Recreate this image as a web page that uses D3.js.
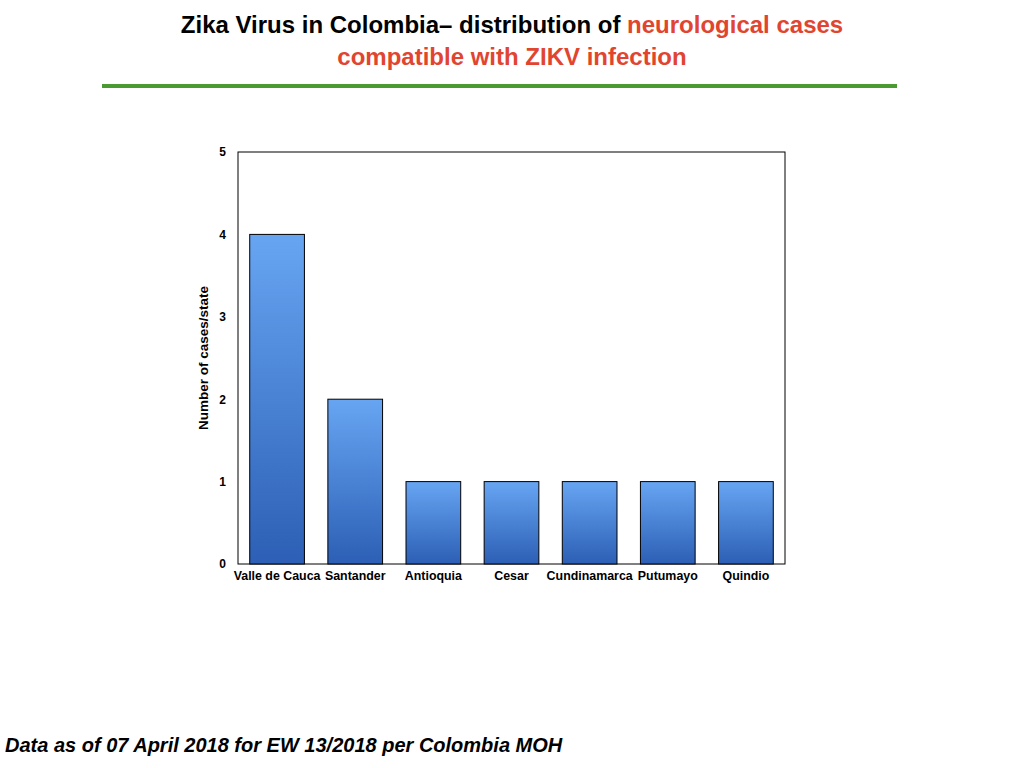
<!DOCTYPE html>
<html lang="en">
<head>
    <meta charset="UTF-8">
    <title>Zika Virus in Colombia</title>
    <script src="https://cdn.jsdelivr.net/npm/d3@7/dist/d3.min.js"></script>
    <style>
        body { margin: 0; background: #fff; }
        text { font-family: "Liberation Sans", Arial, sans-serif; }
    </style>
</head>
<body>
<script>
    // data
    let states = ["Valle de Cauca", "Santander", "Antioquia", "Cesar", "Cundinamarca", "Putumayo", "Quindio"];
    let cases = [4, 2, 1, 1, 1, 1, 1];
    let yTicks = [0, 1, 2, 3, 4, 5];

    let svg = d3.select('body').append('svg')
        .attr('width', 1024)
        .attr('height', 768);

    // gradient for the bars, light on top, darker at the base
    let grad = svg.append('defs').append('linearGradient')
        .attr('id', 'barFill')
        .attr('x1', 0).attr('y1', 0).attr('x2', 0).attr('y2', 1);
    grad.append('stop').attr('offset', '0%').attr('stop-color', '#67a5f2');
    grad.append('stop').attr('offset', '100%').attr('stop-color', '#2c5fb5');

    // title
    let title = svg.append('text')
        .attr('x', 512).attr('y', 33)
        .attr('text-anchor', 'middle')
        .style('font-size', '24px')
        .style('font-weight', 'bold');
    title.append('tspan').attr('fill', '#000').text('Zika Virus in Colombia\u2013  distribution of ');
    title.append('tspan').attr('fill', '#e1452f').text('neurological cases');

    svg.append('text')
        .attr('x', 512).attr('y', 65)
        .attr('text-anchor', 'middle')
        .attr('fill', '#e1452f')
        .style('font-size', '24px')
        .style('font-weight', 'bold')
        .text('compatible with ZIKV infection');

    svg.append('line')
        .attr('x1', 102).attr('x2', 897)
        .attr('y1', 86).attr('y2', 86)
        .attr('stroke', '#4b9a31')
        .attr('stroke-width', 4);

    // chart area
    let plotLeft = 238, plotRight = 785, plotTop = 152, plotBottom = 564;

    let xScale = d3.scaleBand()
        .domain(states)
        .range([plotLeft, plotRight])
        .paddingInner(0.3)
        .paddingOuter(0.15);
    let yScale = d3.scaleLinear()
        .domain([0, 5])
        .range([plotBottom, plotTop]);

    svg.append('rect')
        .attr('x', plotLeft).attr('y', plotTop)
        .attr('width', plotRight - plotLeft).attr('height', plotBottom - plotTop)
        .attr('fill', 'none')
        .attr('stroke', '#000')
        .attr('stroke-width', 1);

    svg.selectAll('rect.bar').data(cases)
        .enter()
        .append('rect')
        .attr('class', 'bar')
        .attr('x', function (d, i) { return xScale(states[i]); })
        .attr('y', function (d) { return yScale(d); })
        .attr('width', xScale.bandwidth())
        .attr('height', function (d) { return plotBottom - yScale(d); })
        .attr('fill', 'url(#barFill)')
        .attr('stroke', '#000')
        .attr('stroke-width', 1);

    let yAxis = svg.append('g')
        .attr('transform', 'translate(' + plotLeft + ',0)')
        .call(d3.axisLeft(yScale).tickValues(yTicks).tickSize(0).tickPadding(12).tickFormat(d3.format('d')));
    yAxis.select('.domain').remove();
    yAxis.selectAll('text')
        .style('font-family', '"Liberation Sans", Arial, sans-serif')
        .style('font-size', '12px')
        .style('font-weight', 'bold')
        .attr('fill', '#000');

    let xAxis = svg.append('g')
        .attr('transform', 'translate(0,' + plotBottom + ')')
        .call(d3.axisBottom(xScale).tickSize(0).tickPadding(7));
    xAxis.select('.domain').remove();
    xAxis.selectAll('text')
        .style('font-family', '"Liberation Sans", Arial, sans-serif')
        .style('font-size', '12.4px')
        .style('font-weight', 'bold')
        .attr('fill', '#000');

    svg.append('text')
        .attr('transform', 'translate(208,' + ((plotTop + plotBottom) / 2) + ') rotate(-90)')
        .attr('text-anchor', 'middle')
        .style('font-size', '13.5px')
        .style('font-weight', 'bold')
        .text('Number of cases/state');

    // footer note
    svg.append('text')
        .attr('x', 5).attr('y', 752)
        .style('font-size', '20px')
        .style('font-weight', 'bold')
        .style('font-style', 'italic')
        .text('Data as of 07 April 2018 for EW 13/2018 per Colombia MOH');
</script>
</body>
</html>
